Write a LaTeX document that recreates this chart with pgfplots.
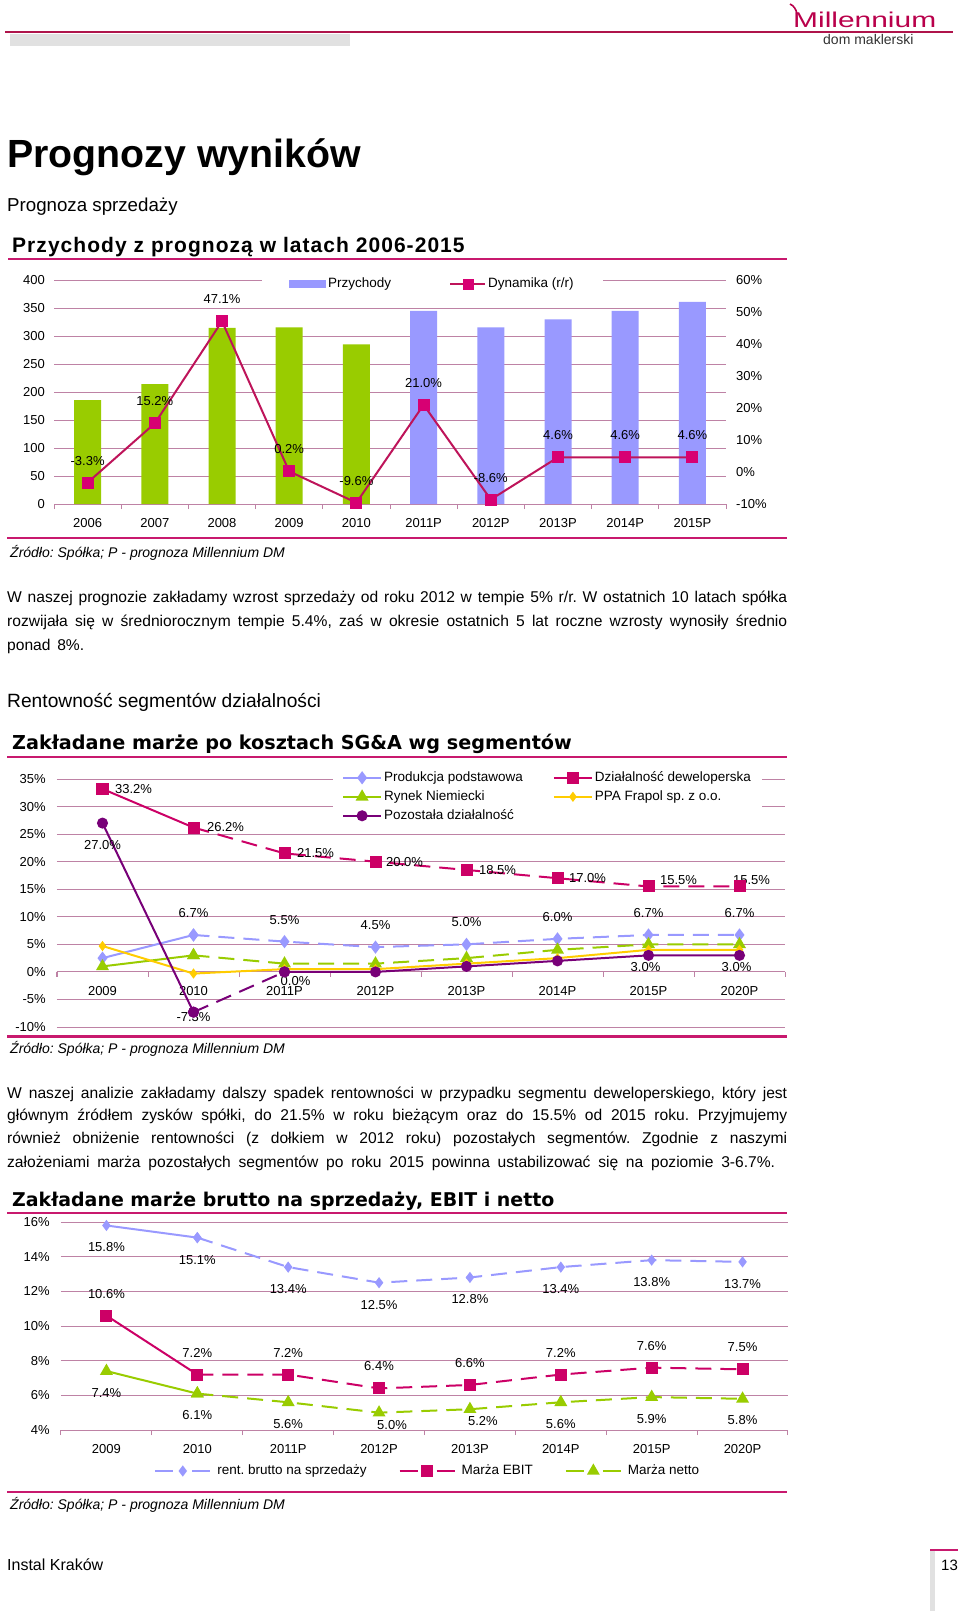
\documentclass[border=0pt]{standalone}
\usepackage{fontspec}
\setmainfont{Liberation Sans}
\newfontfamily\dvfont{DejaVu Sans}
\newfontfamily\lsfont{Liberation Sans}[LetterSpace=5]
\usepackage{graphicx}
\usepackage{pgfplots}
\usepackage{pgfplotstable}
\pgfplotsset{compat=1.18}
\pgfkeys{/pgf/number format/assume math mode=true}
\newcommand\fs[1]{\fontsize{#1}{#1}\selectfont}
\definecolor{gridc}{RGB}{190,130,165}
\definecolor{rulec}{RGB}{200,25,110}
\definecolor{hdrc}{RGB}{175,20,75}
\definecolor{logoc}{RGB}{185,0,75}
\definecolor{greyc}{RGB}{225,225,225}
\definecolor{cblue}{RGB}{153,153,255}
\definecolor{cgreen}{RGB}{153,204,0}
\definecolor{cpink}{RGB}{204,0,102}
\definecolor{cpurple}{RGB}{120,0,120}
\definecolor{cyellow}{RGB}{255,204,0}
\definecolor{dynl}{RGB}{190,20,90}
\definecolor{dynm}{RGB}{215,0,115}
\tikzset{lab/.style={font=\fs{13}, inner sep=0pt, anchor=center, text=black}}
\begin{document}
\frenchspacing
\begin{tikzpicture}[x=1pt,y=1pt]
\path[use as bounding box, fill=white] (0,0) rectangle (960,-1611);

% ---------- header ----------
\node[anchor=base west, inner sep=0pt, text=logoc] at (793,-28) {\resizebox{143pt}{15.5pt}{Millennium}};
\draw[logoc, line width=1.6pt] (797,-14) .. controls (796,-9) and (794,-6) .. (790,-4);
\draw[hdrc, line width=1.8pt] (5,-32) -- (953,-32);
\fill[greyc] (10,-34) rectangle (350,-46);
\node[anchor=base west, inner sep=0pt, font=\fs{14}, text=black!80] at (823,-45) {dom maklerski};

% ---------- titles ----------
\node[anchor=base west, inner sep=0pt, font=\fs{39.3}\bfseries] at (7,-167) {Prognozy wyników};
\node[anchor=base west, inner sep=0pt, font=\fs{18.7}] at (7,-211) {Prognoza sprzedaży};
\node[anchor=base west, inner sep=0pt, font=\lsfont\fs{21}\bfseries] at (12,-252) {Przychody z prognozą w latach 2006-2015};
\draw[rulec, line width=2.5pt] (8,-259) -- (787,-259);

% ---------- chart 1: bars ----------
\begin{axis}[
  at={(54pt,-504pt)}, anchor=south west, scale only axis,
  width=672pt, height=224pt,
  xmin=-0.5, xmax=9.5, ymin=0, ymax=400,
  axis x line*=bottom, axis y line*=left,
  y axis line style={draw=none},
  x axis line style={gridc, line width=1pt},
  ymajorgrids, grid style={gridc, line width=1pt},
  ytick={0,50,...,400}, yticklabel={\pgfmathprintnumber{\tick}},
  xtick={0,...,9}, xticklabels={2006,2007,2008,2009,2010,2011P,2012P,2013P,2014P,2015P},
  minor xtick={-0.5,0.5,...,9.5},
  tick align=outside, major tick length=0pt, minor tick length=5pt,
  minor x tick style={gridc, line width=1pt},
  tick label style={font=\fs{13}},
  yticklabel style={xshift=-5.7pt},
  xticklabel style={yshift=-11pt},
  legend columns=2,
  legend style={at={(0.3095,0.982)}, anchor=west, draw=none, fill=white,
    inner xsep=27pt, inner ysep=2pt, font=\fs{13.5},
    nodes={inner xsep=2pt, inner ysep=3pt, text height=10pt, text depth=3pt},
    /tikz/every even column/.append style={column sep=56pt}},
]
\addplot[ybar, bar width=27pt, bar shift=0pt, fill=cgreen, draw=none, forget plot]
  coordinates {(0,185.7)(1,213.9)(2,314.7)(3,315.3)(4,285.0)};
\addplot[ybar, bar width=27pt, bar shift=0pt, fill=cblue, draw=none,
  legend image code/.code={\fill[cblue] (0pt,-4pt) rectangle (37pt,4pt);}]
  coordinates {(5,344.9)(6,315.2)(7,329.7)(8,344.9)(9,360.8)};
\addlegendentry{Przychody}
\addlegendimage{legend image code/.code={\draw[dynl, line width=2pt] (0pt,0pt)--(35pt,0pt); \fill[dynm] (12.5pt,-5pt) rectangle (22.5pt,5pt);}}
\addlegendentry{Dynamika (r/r)}
\end{axis}

% ---------- chart 1: growth line ----------
\begin{axis}[
  at={(54pt,-504pt)}, anchor=south west, scale only axis,
  width=672pt, height=224pt,
  xmin=-0.5, xmax=9.5, ymin=-10, ymax=60,
  axis x line=none, axis y line*=right,
  y axis line style={draw=none}, major tick length=0pt,
  ytick={-10,0,...,60}, yticklabel={\pgfmathprintnumber{\tick}\%},
  tick label style={font=\fs{13}},
  yticklabel style={xshift=6.7pt},
]
\addplot[dynl, line width=2pt, mark=square*, mark size=5pt, mark options={fill=dynm, draw=dynm},
  nodes near coords={\pgfmathprintnumber[fixed,fixed zerofill,precision=1]{\pgfplotspointmeta}\%},
  every node near coord/.append style={anchor=center, yshift=22pt, text=black, font=\fs{13}}]
  coordinates {(0,-3.3)(1,15.2)(2,47.1)(3,0.2)(4,-9.6)(5,21.0)(6,-8.6)(7,4.6)(8,4.6)(9,4.6)};
\end{axis}

\draw[rulec, line width=2.5pt] (7,-538) -- (787,-538);
\node[anchor=base west, inner sep=0pt, font=\fs{14}\itshape] at (10,-557) {Źródło: Spółka; P - prognoza Millennium DM};

% ---------- paragraph 1 ----------
\node[anchor=base west, inner sep=0pt, font=\fs{15.6}] at (7,-602.5) {\makebox[780pt][s]{W naszej prognozie zakładamy wzrost sprzedaży od roku 2012 w tempie 5\% r/r. W ostatnich 10 latach spółka}};
\node[anchor=base west, inner sep=0pt, font=\fs{15.6}] at (7,-626.5) {\makebox[780pt][s]{rozwijała się w średniorocznym tempie 5.4\%, zaś w okresie ostatnich 5 lat roczne wzrosty wynosiły średnio}};
\node[anchor=base west, inner sep=0pt, font=\fs{15.6}] at (7,-650.5) {\makebox[77pt][s]{ponad 8\%.}};

\node[anchor=base west, inner sep=0pt, font=\fs{19.2}] at (7,-707.5) {Rentowność segmentów działalności};
\node[anchor=base west, inner sep=0pt, font=\dvfont\fs{19.2}\bfseries] at (12,-749.5) {Zakładane marże po kosztach SG\&A wg segmentów};
\draw[rulec, line width=2.5pt] (7,-757) -- (787,-757);

% ---------- chart 2 ----------
\begin{axis}[
  at={(57pt,-1027pt)}, anchor=south west, scale only axis,
  width=728pt, height=248pt,
  xmin=-0.5, xmax=7.5, ymin=-10, ymax=35,
  axis x line*=middle, axis y line*=left,
  hide obscured x ticks=false, hide obscured y ticks=false,
  y axis line style={draw=none},
  x axis line style={gridc, line width=1pt},
  ymajorgrids, grid style={gridc, line width=1pt},
  ytick={-10,-5,...,35}, yticklabel={\pgfmathprintnumber{\tick}\%},
  xtick={0,...,7}, xticklabels={2009,2010,2011P,2012P,2013P,2014P,2015P,2020P},
  minor xtick={-0.5,0.5,...,7.5},
  tick align=outside, major tick length=0pt, minor tick length=5pt,
  minor x tick style={gridc, line width=1pt},
  tick label style={font=\fs{13}},
  yticklabel style={anchor=east, xshift=-7.7pt},
  xticklabel style={anchor=north, yshift=-11pt},
  legend columns=2, legend cell align=left,
  legend style={at={(0.379,1.044)}, anchor=north west, draw=none, fill=white,
    inner xsep=9pt, inner ysep=0pt, font=\fs{13.5},
    nodes={inner xsep=2pt, inner ysep=3pt, text height=10pt, text depth=3pt},
    /tikz/every even column/.append style={column sep=28pt}},
  legend image code/.code={\draw[#1] (0pt,0pt) -- (38pt,0pt); \draw[#1] plot coordinates {(19pt,0pt)};},
]
% Produkcja podstawowa
\addplot[cblue, line width=2pt, mark=diamond*, mark size=5pt, mark options={solid, fill=cblue}]
  coordinates {(0,2.5)(1,6.7)};
\addlegendentry{Produkcja podstawowa}
\addplot[forget plot, cblue, line width=2pt, dash pattern=on 16pt off 9pt, mark=diamond*, mark size=5pt, mark options={solid, fill=cblue}]
  coordinates {(1,6.7)(2,5.5)(3,4.5)(4,5.0)(5,6.0)(6,6.7)(7,6.7)};
% Dzialalnosc deweloperska
\addplot[cpink, line width=2pt, mark=square*, mark size=5pt, mark options={solid, fill=cpink}]
  coordinates {(0,33.2)(1,26.2)};
\addlegendentry{Działalność deweloperska}
\addplot[forget plot, cpink, line width=2pt, dash pattern=on 16pt off 9pt, mark=square*, mark size=5pt, mark options={solid, fill=cpink}]
  coordinates {(1,26.2)(2,21.5)(3,20.0)(4,18.5)(5,17.0)(6,15.5)(7,15.5)};
% Rynek Niemiecki
\addplot[cgreen, line width=2pt, mark=triangle*, mark size=5.5pt, mark options={solid, fill=cgreen}]
  coordinates {(0,1.0)(1,3.0)};
\addlegendentry{Rynek Niemiecki}
\addplot[forget plot, cgreen, line width=2pt, dash pattern=on 16pt off 9pt, mark=triangle*, mark size=5.5pt, mark options={solid, fill=cgreen}]
  coordinates {(1,3.0)(2,1.5)(3,1.5)(4,2.5)(5,4.0)(6,5.0)(7,5.0)};
% PPA Frapol
\addplot[cyellow, line width=2pt, mark=diamond*, mark size=3.5pt, mark options={solid, fill=cyellow}]
  coordinates {(0,4.7)(1,-0.3)(2,0.5)(3,0.5)(4,1.5)(5,2.5)(6,4.0)(7,4.0)};
\addlegendentry{PPA Frapol sp. z o.o.}
% Pozostala dzialalnosc
\addplot[cpurple, line width=2pt, mark=*, mark size=4.5pt, mark options={solid, fill=cpurple}]
  coordinates {(0,27.0)(1,-7.3)};
\addlegendentry{Pozostała działalność}
\addplot[forget plot, cpurple, line width=2pt, dash pattern=on 16pt off 9pt, mark=*, mark size=4.5pt, mark options={solid, fill=cpurple}]
  coordinates {(1,-7.3)(2,0.0)};
\addplot[forget plot, cpurple, line width=2pt, mark=*, mark size=4.5pt, mark options={solid, fill=cpurple}]
  coordinates {(2,0.0)(3,0.0)(4,1.0)(5,2.0)(6,3.0)(7,3.0)};
% labels
\node[lab, xshift=31pt] at (axis cs:0,33.2) {33.2\%};
\node[lab, xshift=32pt] at (axis cs:1,26.2) {26.2\%};
\node[lab, xshift=31pt] at (axis cs:2,21.5) {21.5\%};
\node[lab, xshift=29pt] at (axis cs:3,20.0) {20.0\%};
\node[lab, xshift=31pt] at (axis cs:4,18.5) {18.5\%};
\node[lab, xshift=30pt] at (axis cs:5,17.0) {17.0\%};
\node[lab, xshift=30pt, yshift=6pt] at (axis cs:6,15.5) {15.5\%};
\node[lab, xshift=12pt, yshift=6pt] at (axis cs:7,15.5) {15.5\%};
\node[lab, yshift=-22pt] at (axis cs:0,27.0) {27.0\%};
\node[lab, yshift=-5pt] at (axis cs:1,-7.3) {-7.3\%};
\node[lab, xshift=11pt, yshift=-9pt] at (axis cs:2,0.0) {0.0\%};
\node[lab, xshift=-3pt, yshift=-12pt] at (axis cs:6,3.0) {3.0\%};
\node[lab, xshift=-3pt, yshift=-12pt] at (axis cs:7,3.0) {3.0\%};
\node[lab, yshift=22pt] at (axis cs:1,6.7) {6.7\%};
\node[lab, yshift=22pt] at (axis cs:2,5.5) {5.5\%};
\node[lab, yshift=22pt] at (axis cs:3,4.5) {4.5\%};
\node[lab, yshift=22pt] at (axis cs:4,5.0) {5.0\%};
\node[lab, yshift=22pt] at (axis cs:5,6.0) {6.0\%};
\node[lab, yshift=22pt] at (axis cs:6,6.7) {6.7\%};
\node[lab, yshift=22pt] at (axis cs:7,6.7) {6.7\%};
\end{axis}

\draw[rulec, line width=2.5pt] (7,-1036.5) -- (787,-1036.5);
\node[anchor=base west, inner sep=0pt, font=\fs{14}\itshape] at (10,-1053) {Źródło: Spółka; P - prognoza Millennium DM};

% ---------- paragraph 2 ----------
\node[anchor=base west, inner sep=0pt, font=\fs{15.6}] at (7,-1098) {\makebox[780pt][s]{W naszej analizie zakładamy dalszy spadek rentowności w przypadku segmentu deweloperskiego, który jest}};
\node[anchor=base west, inner sep=0pt, font=\fs{15.6}] at (7,-1120.5) {\makebox[780pt][s]{głównym źródłem zysków spółki, do 21.5\% w roku bieżącym oraz do 15.5\% od 2015 roku. Przyjmujemy}};
\node[anchor=base west, inner sep=0pt, font=\fs{15.6}] at (7,-1143.5) {\makebox[780pt][s]{również obniżenie rentowności (z dołkiem w 2012 roku) pozostałych segmentów. Zgodnie z naszymi}};
\node[anchor=base west, inner sep=0pt, font=\fs{15.6}] at (7,-1167) {\makebox[768pt][s]{założeniami marża pozostałych segmentów po roku 2015 powinna ustabilizować się na poziomie 3-6.7\%.}};

\node[anchor=base west, inner sep=0pt, font=\dvfont\fs{18.95}\bfseries] at (12,-1206) {Zakładane marże brutto na sprzedaży, EBIT i netto};
\draw[rulec, line width=2.5pt] (7,-1213) -- (787,-1213);

% ---------- chart 3 ----------
\begin{axis}[
  at={(61pt,-1430pt)}, anchor=south west, scale only axis,
  width=727pt, height=208pt,
  xmin=-0.5, xmax=7.5, ymin=4, ymax=16,
  axis x line*=bottom, axis y line*=left,
  y axis line style={draw=none},
  x axis line style={gridc, line width=1pt},
  ymajorgrids, grid style={gridc, line width=1pt},
  ytick={4,6,...,16}, yticklabel={\pgfmathprintnumber{\tick}\%},
  xtick={0,...,7}, xticklabels={2009,2010,2011P,2012P,2013P,2014P,2015P,2020P},
  minor xtick={-0.5,0.5,...,7.5},
  tick align=outside, major tick length=0pt, minor tick length=5pt,
  minor x tick style={gridc, line width=1pt},
  tick label style={font=\fs{13}},
  yticklabel style={xshift=-7.7pt},
  xticklabel style={yshift=-11pt},
  legend columns=3,
  legend style={at={(0.128,-0.197)}, anchor=west, draw=none, fill=none,
    inner xsep=0pt, inner ysep=0pt, font=\fs{13.5},
    nodes={inner xsep=6pt, inner ysep=3pt, text height=10pt, text depth=3pt},
    /tikz/every even column/.append style={column sep=26pt}},
  legend image code/.code={\draw[#1,solid] (0pt,0pt) -- (18pt,0pt); \draw[#1,solid] (37pt,0pt) -- (55pt,0pt); \draw[#1] plot coordinates {(27.5pt,0pt)};},
]
\addplot[forget plot, cblue, line width=2pt, mark=diamond*, mark size=4pt, mark options={solid, fill=cblue}]
  coordinates {(0,15.8)(1,15.1)};
\addplot[cblue, line width=2pt, dash pattern=on 16pt off 9pt, mark=diamond*, mark size=4pt, mark options={solid, fill=cblue}]
  coordinates {(1,15.1)(2,13.4)(3,12.5)(4,12.8)(5,13.4)(6,13.8)(7,13.7)};
\addlegendentry{rent. brutto na sprzedaży}
\addplot[forget plot, cpink, line width=2pt, mark=square*, mark size=5pt, mark options={solid, fill=cpink}]
  coordinates {(0,10.6)(1,7.2)};
\addplot[cpink, line width=2pt, dash pattern=on 16pt off 9pt, mark=square*, mark size=5pt, mark options={solid, fill=cpink}]
  coordinates {(1,7.2)(2,7.2)(3,6.4)(4,6.6)(5,7.2)(6,7.6)(7,7.5)};
\addlegendentry{Marża EBIT}
\addplot[forget plot, cgreen, line width=2pt, mark=triangle*, mark size=5.5pt, mark options={solid, fill=cgreen}]
  coordinates {(0,7.4)(1,6.1)};
\addplot[cgreen, line width=2pt, dash pattern=on 16pt off 9pt, mark=triangle*, mark size=5.5pt, mark options={solid, fill=cgreen}]
  coordinates {(1,6.1)(2,5.6)(3,5.0)(4,5.2)(5,5.6)(6,5.9)(7,5.8)};
\addlegendentry{Marża netto}
% value labels
\addplot[forget plot, draw=none, mark=none,
  nodes near coords={\pgfmathprintnumber[fixed,fixed zerofill,precision=1]{\pgfplotspointmeta}\%},
  every node near coord/.append style={anchor=center, yshift=-22pt, text=black, font=\fs{13}}]
  coordinates {(0,15.8)(1,15.1)(2,13.4)(3,12.5)(4,12.8)(5,13.4)(6,13.8)(7,13.7)};
\addplot[forget plot, draw=none, mark=none,
  nodes near coords={\pgfmathprintnumber[fixed,fixed zerofill,precision=1]{\pgfplotspointmeta}\%},
  every node near coord/.append style={anchor=center, yshift=22pt, text=black, font=\fs{13}}]
  coordinates {(0,10.6)(1,7.2)(2,7.2)(3,6.4)(4,6.6)(5,7.2)(6,7.6)(7,7.5)};
\addplot[forget plot, draw=none, mark=none,
  nodes near coords={\pgfmathprintnumber[fixed,fixed zerofill,precision=1]{\pgfplotspointmeta}\%},
  every node near coord/.append style={anchor=center, yshift=-21.5pt, text=black, font=\fs{13}}]
  coordinates {(0,7.4)(1,6.1)(2,5.6)(5,5.6)(6,5.9)(7,5.8)};
\addplot[forget plot, draw=none, mark=none,
  nodes near coords={\pgfmathprintnumber[fixed,fixed zerofill,precision=1]{\pgfplotspointmeta}\%},
  every node near coord/.append style={anchor=center, xshift=13pt, yshift=-12pt, text=black, font=\fs{13}}]
  coordinates {(3,5.0)(4,5.2)};
\end{axis}

\draw[rulec, line width=2.5pt] (7,-1492) -- (787,-1492);
\node[anchor=base west, inner sep=0pt, font=\fs{14}\itshape] at (10,-1509) {Źródło: Spółka; P - prognoza Millennium DM};

% ---------- footer ----------
\node[anchor=base west, inner sep=0pt, font=\fs{16}] at (7,-1570) {Instal Kraków};
\draw[rulec, line width=2pt] (930,-1550) -- (958,-1550);
\fill[greyc] (930,-1551) rectangle (935,-1611);
\node[anchor=base west, inner sep=0pt, font=\fs{15}] at (941,-1570) {13};
\end{tikzpicture}
\end{document}
